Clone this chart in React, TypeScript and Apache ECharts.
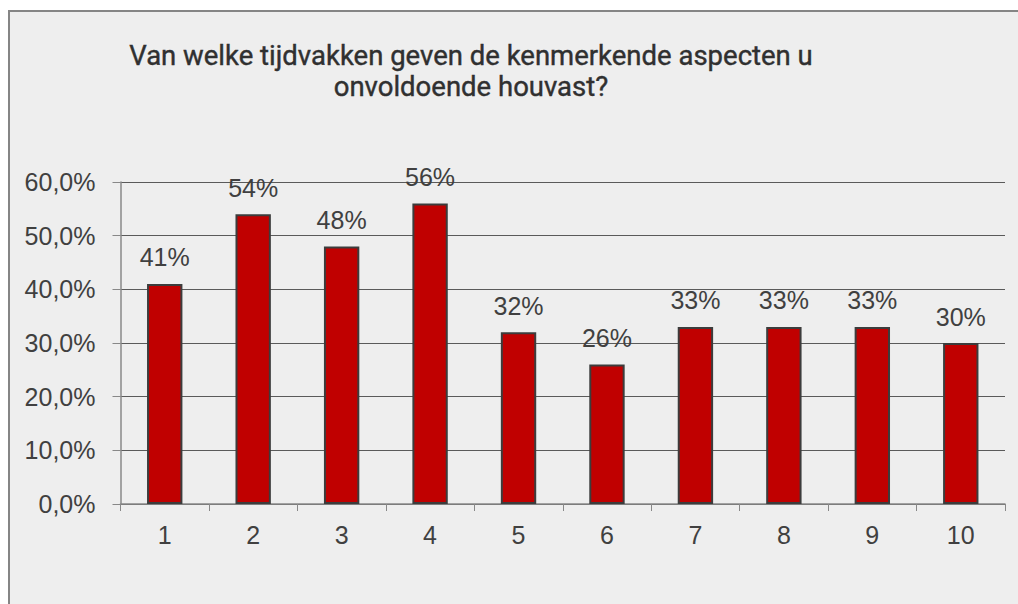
import React, { useEffect, useRef } from "react";
import * as echarts from "echarts";

const categories = ["1", "2", "3", "4", "5", "6", "7", "8", "9", "10"];
const values = [41, 54, 48, 56, 32, 26, 33, 33, 33, 30];
const titleText = "Van welke tijdvakken geven de kenmerkende aspecten u\nonvoldoende houvast?";

export default function App() {
  const ref = useRef<HTMLDivElement>(null);
  useEffect(() => {
    const chart = echarts.init(ref.current!, null, { renderer: "svg" });
    const font = "'Liberation Sans', Arial, sans-serif";
    chart.setOption({
      animation: false,
      backgroundColor: "#ffffff",
      textStyle: { fontFamily: font },
      graphic: [
        {
          type: "rect",
          shape: { x: 9, y: 11, width: 1030, height: 620 },
          style: { fill: "#eeeeee", stroke: "#858585", lineWidth: 2 },
          z: -10,
          silent: true,
        },
      ],
      title: {
        text: titleText,
        left: 466,
        top: 35,
        textAlign: "center",
        textStyle: {
          fontFamily: "Roboto, 'Liberation Sans', sans-serif",
          fontSize: 27.5,
          lineHeight: 31,
          fontWeight: "normal",
          color: "#303030",
          textBorderColor: "#303030",
          textBorderWidth: 0.4,
        },
      },
      grid: { left: 120.5, right: 13, top: 182, bottom: 100, containLabel: false },
      xAxis: {
        type: "category",
        data: categories,
        axisLine: { show: true, lineStyle: { color: "#888888", width: 1.5 } },
        axisTick: { show: true, length: 7, lineStyle: { color: "#888888" } },
        axisLabel: { color: "#404040", fontSize: 25, margin: 18, fontFamily: font },
      },
      yAxis: {
        type: "value",
        min: 0,
        max: 60,
        interval: 10,
        axisLine: { show: true, lineStyle: { color: "#888888", width: 1.5 } },
        axisTick: { show: true, length: 8, lineStyle: { color: "#888888" } },
        axisLabel: {
          color: "#404040",
          fontSize: 25,
          margin: 25,
          fontFamily: font,
          formatter: (v: number) => v.toFixed(1).replace(".", ",") + "%",
        },
        splitLine: { show: true, lineStyle: { color: "#5a5a5a", width: 1 } },
      },
      series: [
        {
          type: "bar",
          data: values,
          barWidth: "40%",
          itemStyle: { color: "#c00000", borderColor: "#3c3c3c", borderWidth: 2 },
          label: {
            show: true,
            position: "top",
            distance: 14,
            color: "#404040",
            fontSize: 25,
            fontFamily: font,
            formatter: (p: any) => p.value + "%",
          },
        },
      ],
    });
    return () => chart.dispose();
  }, []);
  return (
    <div
      ref={ref}
      style={{ position: "absolute", left: 0, top: 0, width: 1018, height: 604 }}
    />
  );
}
